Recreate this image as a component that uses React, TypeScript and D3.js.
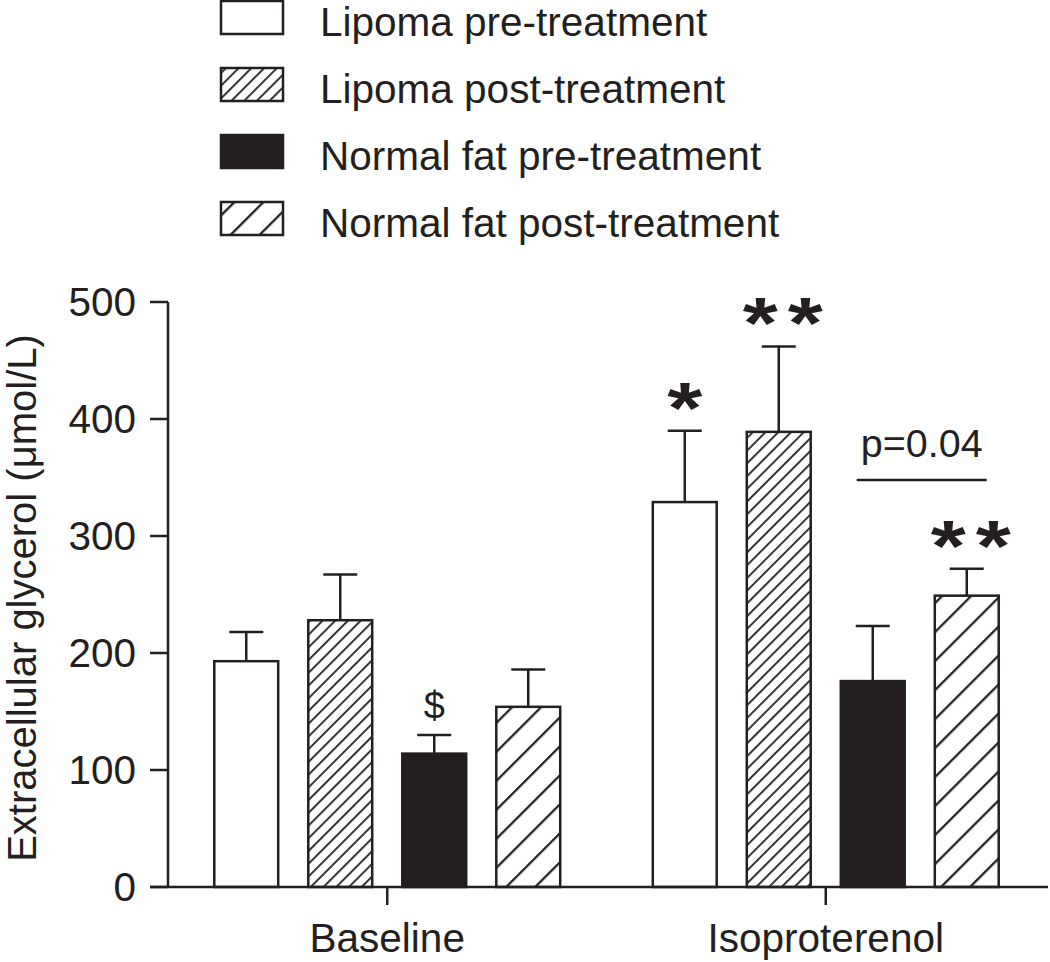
import React from 'react';
import * as d3 from 'd3';

const groups = ['Baseline', 'Isoproterenol'];
const series = [
  'Lipoma pre-treatment',
  'Lipoma post-treatment',
  'Normal fat pre-treatment',
  'Normal fat post-treatment',
];
const baselineMeans = [193, 228, 114, 154];
const baselineSem = [25, 39, 16, 32];
const isoMeans = [329, 389, 176, 249];
const isoSem = [61, 73, 47, 23];
const yTicks = [0, 100, 200, 300, 400, 500];
const yLabel = 'Extracellular glycerol (\u03bcmol/L)';

const marks = [
  { group: 'Baseline', s: 2, text: '$', kind: 'dollar' },
  { group: 'Isoproterenol', s: 0, text: '*', kind: 'star1' },
  { group: 'Isoproterenol', s: 1, text: '**', kind: 'star2' },
  { group: 'Isoproterenol', s: 3, text: '**', kind: 'star2' },
];
const pText = 'p=0.04';

const INK = '#231f20';
const FONT = '"Liberation Sans", Arial, Helvetica, sans-serif';

export default function App() {
  const W = 1050;
  const H = 962;
  const x0 = d3.scaleBand<string>().domain(groups).range([168, 1045]).padding(0);
  const x1 = d3
    .scaleBand<number>()
    .domain([0, 1, 2, 3])
    .range([-188, 188])
    .paddingInner(0.32)
    .paddingOuter(0.16);
  const y = d3.scaleLinear().domain([0, 500]).range([887, 302]);
  const bw = x1.bandwidth();
  const means: Record<string, number[]> = { Baseline: baselineMeans, Isoproterenol: isoMeans };
  const sems: Record<string, number[]> = { Baseline: baselineSem, Isoproterenol: isoSem };
  const center = (g: string) => (x0(g) as number) + x0.bandwidth() / 2;
  const barX = (g: string, s: number) => center(g) + (x1(s) as number);
  const fills = ['#ffffff', 'url(#hatchDense)', INK, 'url(#hatchSparse)'];

  const legendY = [1, 68, 135, 202];

  return (
    <svg
      width={W}
      height={H}
      style={{ position: 'absolute', left: 0, top: 0, background: '#fff' }}
      fontFamily={FONT}
    >
      <defs>
        <pattern
          id="hatchDense"
          patternUnits="userSpaceOnUse"
          width={9}
          height={9}
          patternTransform="rotate(45)"
        >
          <rect width={9} height={9} fill="#fff" />
          <line x1={0} y1={0} x2={0} y2={9} stroke={INK} strokeWidth={3.6} />
        </pattern>
        <pattern
          id="hatchSparse"
          patternUnits="userSpaceOnUse"
          width={20.5}
          height={20.5}
          patternTransform="rotate(45)"
        >
          <rect width={20.5} height={20.5} fill="#fff" />
          <line x1={0} y1={0} x2={0} y2={20.5} stroke={INK} strokeWidth={4.6} />
        </pattern>
      </defs>

      {/* Legend */}
      {series.map((name, i) => (
        <g key={name}>
          <rect
            x={221}
            y={legendY[i]}
            width={62}
            height={33}
            fill={fills[i]}
            stroke={INK}
            strokeWidth={2.5}
          />
          <text x={320} y={legendY[i] + 35} fontSize={40.5} fill={INK}>
            {name}
          </text>
        </g>
      ))}

      {/* Bars */}
      {groups.map((g) =>
        series.map((_, s) => {
          const m = means[g][s];
          const e = sems[g][s];
          const bx = barX(g, s);
          const cx = bx + bw / 2;
          return (
            <g key={g + s}>
              <line x1={cx} x2={cx} y1={y(m)} y2={y(m + e)} stroke={INK} strokeWidth={2.5} />
              <line x1={cx - 17} x2={cx + 17} y1={y(m + e)} y2={y(m + e)} stroke={INK} strokeWidth={2.5} />
              <rect
                x={bx}
                y={y(m)}
                width={bw}
                height={y(0) - y(m)}
                fill={fills[s]}
                stroke={INK}
                strokeWidth={2.5}
              />
            </g>
          );
        })
      )}

      {/* Y axis */}
      <line x1={168} x2={168} y1={y(500)} y2={y(0)} stroke={INK} strokeWidth={2.5} />
      {yTicks.map((t) => (
        <g key={t}>
          <line x1={150} x2={168} y1={y(t)} y2={y(t)} stroke={INK} strokeWidth={2.5} />
          <text x={136} y={y(t) + 14} textAnchor="end" fontSize={40.5} fill={INK}>
            {t}
          </text>
        </g>
      ))}
      <text
        transform={`translate(36, ${598}) rotate(-90)`}
        textAnchor="middle"
        fontSize={40}
        fill={INK}
      >
        {yLabel}
      </text>

      {/* X axis */}
      <line x1={150} x2={1048} y1={y(0)} y2={y(0)} stroke={INK} strokeWidth={2.5} />
      {groups.map((g) => (
        <g key={g}>
          <line x1={center(g)} x2={center(g)} y1={y(0)} y2={y(0) + 18} stroke={INK} strokeWidth={2.5} />
          <text x={center(g)} y={952} textAnchor="middle" fontSize={40.5} fill={INK}>
            {g}
          </text>
        </g>
      ))}

      {/* Annotations */}
      {marks.map((mk, i) => {
        const m = means[mk.group][mk.s];
        const e = sems[mk.group][mk.s];
        const cx = barX(mk.group, mk.s) + bw / 2;
        const top = y(m + e);
        if (mk.kind === 'dollar') {
          return (
            <text key={i} x={cx} y={top - 16} textAnchor="middle" fontSize={38} fill={INK}>
              {mk.text}
            </text>
          );
        }
        const n = mk.text.length;
        return (
          <g key={i}>
            {d3.range(n).map((k) => {
              const sx = n === 1 ? cx : cx + 4 + (k - 0.5) * 45;
              return (
                <text
                  key={k}
                  transform={`translate(${sx}, ${top + 2}) scale(1.25, 1)`}
                  textAnchor="middle"
                  fontSize={72}
                  fontWeight="bold"
                  fill={INK}
                >
                  *
                </text>
              );
            })}
          </g>
        );
      })}

      {/* p-value bracket */}
      {(() => {
        const a = barX('Isoproterenol', 2) + bw / 2 - 16;
        const b = barX('Isoproterenol', 3) + bw / 2 + 20;
        return (
          <g>
            <line x1={a} x2={b} y1={480} y2={480} stroke={INK} strokeWidth={2.5} />
            <text x={(a + b) / 2} y={457} textAnchor="middle" fontSize={39.5} fill={INK}>
              {pText}
            </text>
          </g>
        );
      })()}
    </svg>
  );
}
